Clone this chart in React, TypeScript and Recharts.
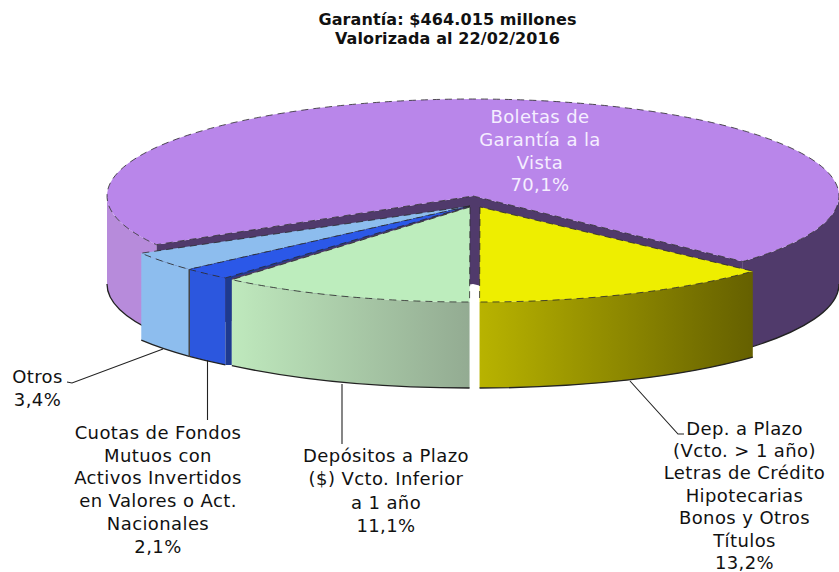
import React from "react";
import { PieChart, Pie, Cell } from "recharts";

const sliceNames = ["Boletas", "Otros", "Cuotas", "Depositos", "DepPlazo"];
const sliceValues = [70.1, 3.4, 2.1, 11.1, 13.2];
const labelLines: string[][] = [
  ["Boletas de", "Garantía a la", "Vista", "70,1%"],
  ["Otros", "3,4%"],
  ["Cuotas de Fondos", "Mutuos con", "Activos Invertidos", "en Valores o Act.", "Nacionales", "2,1%"],
  ["Depósitos a Plazo", "($) Vcto. Inferior", "a 1 año", "11,1%"],
  ["Dep. a Plazo", "(Vcto. > 1 año)", "Letras de Crédito", "Hipotecarias", "Bonos y Otros", "Títulos", "13,2%"],
];
const titleLines = ["Garantía: $464.015 millones", "Valorizada al 22/02/2016"];

const data = sliceNames.map((name, i) => ({ name, value: sliceValues[i] }));

// ---- presentation only ----
type SliceStyle = {
  ax: number; ay: number; rx: number; ry: number; depth: number;
  top: string; wall: [string, string]; x1: number; x2: number;
  cut?: string; seamRx?: number; seam?: string;
};
const STYLES: SliceStyle[] = [
  { ax: 473, ay: 196, rx: 366, ry: 97, depth: 88, top: "#b986ea", wall: ["#b78bdb", "#503a6b"], x1: 160, x2: 750, cut: "#503a6b" },
  { ax: 470, ay: 206, rx: 380, ry: 94, depth: 87, top: "#8dbdee", wall: ["#8dbdee", "#8dbdee"], x1: 141, x2: 188 },
  { ax: 470, ay: 206, rx: 380, ry: 94, depth: 87, top: "#2b58e8", wall: ["#2c57de", "#2c57de"], x1: 188, x2: 226, seamRx: 370, seam: "#1e3a8f" },
  { ax: 470, ay: 207, rx: 370, ry: 95, depth: 86, top: "#bdedbd", wall: ["#bfe9bd", "#93ab92"], x1: 231, x2: 470 },
  { ax: 480, ay: 207, rx: 370, ry: 95, depth: 86, top: "#eeee00", wall: ["#b8b300", "#656000"], x1: 480, x2: 753 },
];
const LABELS = [
  { x: 540, y: 123, step: 22.8, fill: "#f5eeff" },
  { x: 37.5, y: 382.7, step: 23, fill: "#111" },
  { x: 158, y: 439, step: 22.7, fill: "#111" },
  { x: 386, y: 462, step: 23.4, fill: "#111" },
  { x: 744.5, y: 434.5, step: 22.4, fill: "#111" },
];
const LEADERS: (string | null)[] = [
  null,
  "67,382 72,383 163,349",
  "207.5,360 207.5,420",
  "342,384 342,444",
  "630,381 678,434 684,434",
];
const FONT = "'DejaVu Sans', Verdana, sans-serif";

const Slice3D = (props: any) => {
  const i = sliceNames.indexOf(props.name ?? props.payload?.name);
  const s = STYLES[i];
  const { startAngle: a0, endAngle: a1 } = props;
  const pt = (a: number, rx = s.rx, dy = 0): [number, number] => [
    s.ax + rx * Math.cos((a * Math.PI) / 180),
    s.ay - s.ry * Math.sin((a * Math.PI) / 180) + dy,
  ];
  const str = (p: [number, number]) => `${p[0].toFixed(2)} ${p[1].toFixed(2)}`;
  const large = a1 - a0 > 180 ? 1 : 0;
  const topPath = `M${s.ax} ${s.ay} L${str(pt(a0))} A${s.rx} ${s.ry} 0 ${large} 0 ${str(pt(a1))} Z`;
  const arcs: [number, number][] = [];
  for (const k of [-1, 0, 1]) {
    const lo = Math.max(a0, 180 + 360 * k);
    const hi = Math.min(a1, 360 + 360 * k);
    if (hi > lo) arcs.push([lo, hi]);
  }
  const id = `wall-${i}`;
  const d = s.depth;
  const bottom = { x: s.ax, y: s.ay + d };
  return (
    <g>
      <defs>
        <linearGradient id={id} gradientUnits="userSpaceOnUse" x1={s.x1} x2={s.x2} y1={0} y2={0}>
          <stop offset={0} stopColor={s.wall[0]} />
          <stop offset={1} stopColor={s.wall[1]} />
        </linearGradient>
      </defs>
      {s.cut && (
        <path
          fill={s.cut}
          d={`M${s.ax} ${s.ay} L${str(pt(a0))} L${str(pt(a0, s.rx, d))} L${bottom.x} ${bottom.y} L${str(pt(a1, s.rx, d))} L${str(pt(a1))} Z`}
        />
      )}
      {arcs.map(([lo, hi], k) => (
        <g key={k}>
          <path
            fill={`url(#${id})`}
            d={`M${str(pt(lo))} A${s.rx} ${s.ry} 0 0 0 ${str(pt(hi))} L${str(pt(hi, s.rx, d))} A${s.rx} ${s.ry} 0 0 1 ${str(pt(lo, s.rx, d))} Z`}
          />
          <path
            fill="none"
            stroke="#222"
            strokeWidth={1.3}
            d={`M${str(pt(hi, s.rx, d))} A${s.rx} ${s.ry} 0 0 1 ${str(pt(lo, s.rx, d))}`}
          />
        </g>
      ))}
      {s.seamRx && (
        <path
          fill={s.seam}
          d={`M${s.ax} ${s.ay} L${str(pt(a1))} L${str(pt(a1, s.rx, d))} L${str(pt(a1, s.seamRx, d))} L${str(pt(a1, s.seamRx))} Z`}
        />
      )}
      <path d={topPath} fill={s.top} stroke="#2a2a2a" strokeWidth={0.8} strokeDasharray="7 5" />
      {i === 2 && (
        <path
          d={`M${str(pt(a0))} L${str(pt(a0, s.rx, d))}`}
          stroke="#444"
          strokeWidth={1.5}
          fill="none"
        />
      )}
    </g>
  );
};

const renderLabel = (props: any) => {
  const i = sliceNames.indexOf(props.name ?? props.payload?.name);
  const l = LABELS[i];
  const lead = LEADERS[i];
  return (
    <g key={i}>
      {lead && <polyline points={lead} fill="none" stroke="#222" strokeWidth={1.1} />}
      <text textAnchor="middle" fontFamily={FONT} fontSize={18} letterSpacing={0.4} fill={l.fill}>
        {labelLines[i].map((t, k) => (
          <tspan key={k} x={l.x} y={l.y + k * l.step}>
            {t}
          </tspan>
        ))}
      </text>
    </g>
  );
};

export default function App() {
  return (
    <div style={{ position: "absolute", left: 0, top: 0, width: 839, height: 572, background: "#fff" }}>
      <PieChart width={839} height={572} margin={{ top: 0, right: 0, bottom: 0, left: 0 }}>
        <text textAnchor="middle" fontFamily={FONT} fontSize={16} letterSpacing={0.1} fontWeight="bold" fill="#111">
          {titleLines.map((t, k) => (
            <tspan key={k} x={447.5} y={25 + k * 19}>
              {t}
            </tspan>
          ))}
        </text>
        <Pie
          data={data}
          dataKey="value"
          nameKey="name"
          cx={473}
          cy={196}
          outerRadius={366}
          startAngle={-42.5}
          endAngle={317.5}
          stroke="none"
          isAnimationActive={false}
          shape={Slice3D}
          inactiveShape={Slice3D}
          label={renderLabel}
          labelLine={false}
          rootTabIndex={-1}
        >
          {data.map((d, i) => (
            <Cell key={d.name} fill={STYLES[i].top} />
          ))}
        </Pie>
      </PieChart>
    </div>
  );
}
